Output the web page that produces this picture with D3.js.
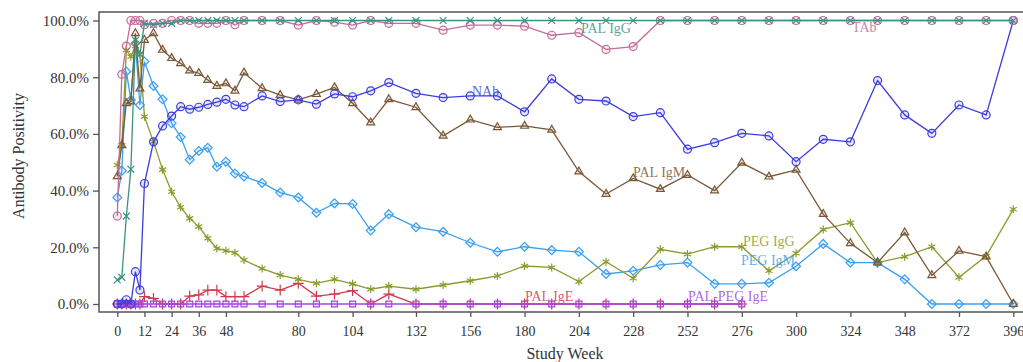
<!DOCTYPE html>
<html>
<head>
<meta charset="utf-8">
<script src="https://cdn.jsdelivr.net/npm/d3@7"></script>
<style>
  body { margin: 0; background: #fff; }
  svg { display: block; }
  text { font-family: "Liberation Serif", "DejaVu Serif", serif; }
</style>
</head>
<body>
<div id="chart"></div>
<script>
// study weeks at which positivity was measured
const weeks = [0, 2, 4, 6, 8, 10, 12, 16, 20, 24, 28, 32, 36, 40, 44, 48, 52, 56,
  64, 72, 80, 88, 96, 104, 112, 120, 132, 144, 156, 168, 180, 192, 204, 216, 228,
  240, 252, 264, 276, 288, 300, 312, 324, 336, 348, 360, 372, 384, 396];

const xTicks = [0, 12, 24, 36, 48, 80, 104, 132, 156, 180, 204, 228, 252, 276, 300, 324, 348, 372, 396];
const yTicks = [0, 20, 40, 60, 80, 100];

// % positive, one value per week above
const tab = [31, 81, 91, 100, 100, 100, 98.5,
  99, 99, 100, 100, 100, 99, 99, 99, 100, 98.5, 100,
  100, 100, 98.4, 100, 99.4, 98.4, 100, 99,
  99, 96.6, 98.4, 98.4, 98, 94.8, 95.7, 89.8, 90.8, 100, 100, 100, 100, 100,
  100, 100, 100, 100, 100, 100, 100, 100, 100];
const palIgG = [8.5, 9.4, 31, 47.5, 93, 88, 99,
  98.5, 99, 99, 100, 100, 100, 100, 100, 100, 100, 100,
  100, 100, 100, 100, 100, 100, 100, 100,
  100, 100, 100, 100, 100, 100, 100, 100, 100, 100, 100, 100, 100, 100,
  100, 100, 100, 100, 100, 100, 100, 100, 100];
const nab = [0, 0, 1.5, 0, 11.4, 4.9, 42.5,
  57.2, 62.8, 66.3, 69.6, 68.7, 69.4, 70.4, 71.2, 72.2, 70.2, 69.6,
  73.4, 71.4, 72, 70.5, 74.1, 73.1, 75.2, 78.1,
  74.3, 72.8, 73.4, 73.4, 67.8, 79.4, 72.2, 71.6, 66.1, 67.5, 54.6, 56.9, 60.2, 59.3,
  50.2, 58.1, 57.2, 78.8, 66.7, 60.2, 70.2, 66.7, 100];
const palIgM = [45, 56, 70.8, 71.4, 95.5, 76, 93.1,
  95.5, 89.6, 86.7, 84.9, 82.3, 81.4, 79, 76.9, 77.8, 75.2, 81.6,
  76.1, 73.7, 72, 74, 76.4, 70.8, 64, 72.2,
  69.4, 59.3, 65, 62.3, 62.8, 61.4, 46.7, 38.8, 44.3, 40.5, 45.5, 40, 49.8, 44.9,
  47.3, 31.7, 21.4, 14.6, 25.2, 10.1, 18.7, 16.7, 0];
const pegIgG = [49, 56, 89.6, 87.2, 91, 88, 66.1,
  57.2, 47.4, 39.6, 34.1, 30.2, 27.3, 23.2, 19.6, 18.8, 18.1, 15.5,
  12.5, 10.2, 8.7, 7.3, 8.7, 7.1, 5.2, 6.3,
  5.2, 6.7, 8.2, 9.9, 13.4, 12.9, 7.9, 14.9, 9.1, 19.3, 17.6, 20.2, 20.2, 11.7,
  17.9, 26.3, 28.7, 14.6, 16.7, 20.2, 9.4, 16.9, 33.4];
const pegIgM = [37.6, 47, 82, 72, 92, 70.2, 85.5,
  76.9, 72.2, 63.8, 58.9, 50.9, 54, 55.1, 48.4, 50.2, 46, 45,
  42.7, 39.3, 37.6, 32.2, 35.5, 35.3, 25.9, 31.7,
  27.1, 25.5, 21.6, 18.4, 20.2, 19, 18.4, 10.6, 11.7, 13.8, 14.6, 7.1, 7.1, 7.5,
  13.3, 21.2, 14.6, 14.6, 8.7, 0, 0, 0, 0];
// IgE assays stop at week 276
const palIgE = [0, 0, 0, 0, 0, 0, 2.6,
  2, 0, 0, 0, 2.8, 3.2, 4.9, 4.9, 2.6, 2.6, 2.6,
  6.3, 4.9, 7.3, 2.8, 3.5, 4.7, 0, 3.5,
  0, 0, 0, 0, 0, 0, 0, 0, 0, 0, 0, 0, 0];
const palPegIgE = [0, 0, 0, 0, 0, 0, 0,
  0, 0, 0, 0, 0, 0, 0, 0, 0, 0, 0,
  0, 0, 0, 0, 0, 0, 0, 0,
  0, 0, 0, 0, 0, 0, 0, 0, 0, 0, 0, 0, 0];

const series = [
  { name: "PAL IgE", values: palIgE, color: "#d2394b", symbol: d3.symbolPlus, size: 40, lx: 525, ly: 301 },
  { name: "PAL-PEG IgE", values: palPegIgE, color: "#a446e0", symbol: d3.symbolSquare2, size: 45, lx: 688, ly: 301 },
  { name: "PEG IgM", values: pegIgM, color: "#3b9ff0", symbol: d3.symbolDiamond2, size: 50, lx: 741, ly: 265 },
  { name: "PEG IgG", values: pegIgG, color: "#8b9a2c", symbol: d3.symbolAsterisk, size: 45, lx: 743, ly: 246 },
  { name: "PAL IgM", values: palIgM, color: "#7a5836", symbol: d3.symbolTriangle2, size: 45, lx: 633, ly: 177 },
  { name: "NAb", values: nab, color: "#3d3ddd", symbol: d3.symbolCircle, size: 50, lx: 472, ly: 96 },
  { name: "TAb", values: tab, color: "#c66c99", symbol: d3.symbolCircle, size: 50, lx: 852, ly: 32 },
  { name: "PAL IgG", values: palIgG, color: "#3a9282", symbol: d3.symbolTimes, size: 32, lx: 581, ly: 33 }
];

const width = 1023, height = 362;

const svg = d3.select("#chart").append("svg")
  .attr("width", width)
  .attr("height", height);

const x = d3.scaleLinear().domain([0, 396]).range([117.3, 1013.3]);
const y = d3.scaleLinear().domain([0, 100]).range([304, 20.5]);

const plotLeft = 99, plotTop = 12, plotBottom = 312;

// frame (right edge is cut off in the original)
svg.append("path")
  .attr("d", `M${width + 5},${plotTop}H${plotLeft}V${plotBottom}H${width + 5}`)
  .attr("fill", "none")
  .attr("stroke", "#555")
  .attr("stroke-width", 1.5);

const yAxis = svg.append("g")
  .attr("transform", `translate(${plotLeft},0)`)
  .call(d3.axisLeft(y).tickValues(yTicks).tickSize(6).tickPadding(4)
    .tickFormat(d => d3.format(".1f")(d) + "%"));
yAxis.select(".domain").remove();
yAxis.selectAll(".tick text").attr("font-size", 15);

const xAxis = svg.append("g")
  .attr("transform", `translate(0,${plotBottom})`)
  .call(d3.axisBottom(x).tickValues(xTicks).tickSize(5).tickPadding(9));
xAxis.select(".domain").remove();
xAxis.selectAll(".tick text").attr("font-size", 14);

svg.selectAll(".tick line").attr("stroke", "#555").attr("stroke-width", 1.3);
svg.selectAll(".tick text")
  .attr("font-family", "Liberation Serif")
  .attr("fill", "#333");

svg.append("text")
  .attr("transform", "translate(24,156) rotate(-90)")
  .attr("text-anchor", "middle")
  .attr("font-size", 16)
  .attr("fill", "#333")
  .text("Antibody Positivity");

svg.append("text")
  .attr("x", 565)
  .attr("y", 359)
  .attr("text-anchor", "middle")
  .attr("font-size", 16)
  .attr("fill", "#333")
  .text("Study Week");

const line = d3.line()
  .x(d => x(d[0]))
  .y(d => y(d[1]));

series.forEach(s => {
  const pts = s.values.map((v, i) => [weeks[i], v]);
  const g = svg.append("g");

  g.append("path")
    .datum(pts)
    .attr("d", line)
    .attr("fill", "none")
    .attr("stroke", s.color)
    .attr("stroke-width", 1.3);

  g.selectAll("path.mark")
    .data(pts)
    .enter()
    .append("path")
    .attr("class", "mark")
    .attr("transform", d => `translate(${x(d[0])},${y(d[1])})`)
    .attr("d", d3.symbol().type(s.symbol).size(s.size))
    .attr("fill", s.color)
    .attr("fill-opacity", 0.12)
    .attr("stroke", s.color)
    .attr("stroke-width", 1.2);
});

// series labels placed inside the plot
series.forEach(s => {
  svg.append("text")
    .attr("x", s.lx)
    .attr("y", s.ly)
    .attr("font-size", 14)
    .attr("fill", s.color)
    .attr("fill-opacity", 0.85)
    .text(s.name);
});
</script>
</body>
</html>
